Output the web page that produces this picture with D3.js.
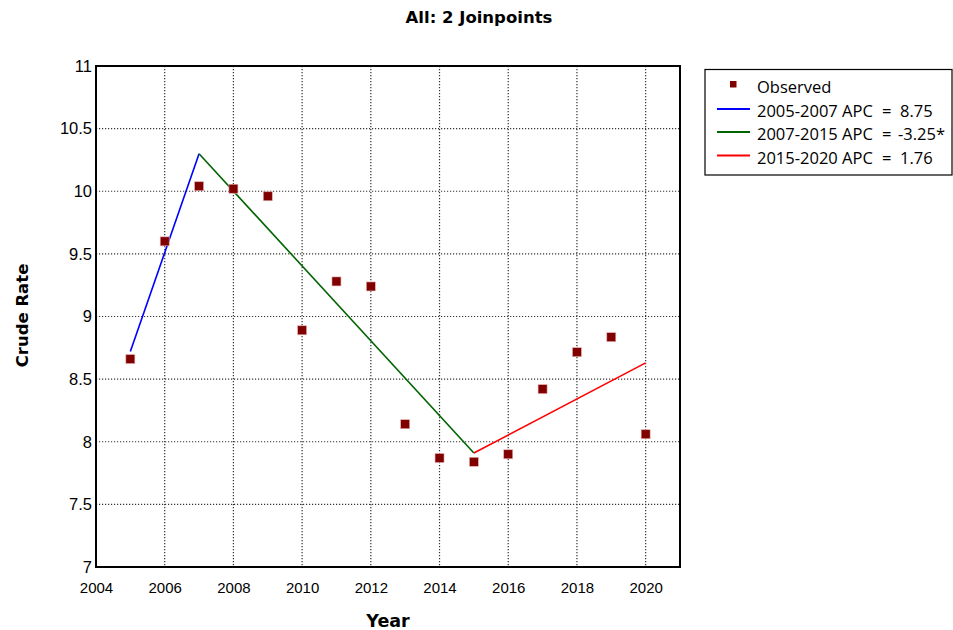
<!DOCTYPE html>
<html>
<head>
<meta charset="utf-8">
<script src="https://cdn.jsdelivr.net/npm/d3@7"></script>
<style>
  html, body { margin: 0; padding: 0; background: #fff; }
  svg { display: block; }
</style>
</head>
<body>
<svg id="chart" width="953" height="630"></svg>
<script>
// Observed crude rates by year
const years = [2005, 2006, 2007, 2008, 2009, 2010, 2011, 2012, 2013, 2014, 2015, 2016, 2017, 2018, 2019, 2020];
const observed = [8.66, 9.60, 10.04, 10.02, 9.96, 8.89, 9.28, 9.24, 8.14, 7.87, 7.84, 7.90, 8.42, 8.715, 8.835, 8.06];

// Joinpoint model segments (start/end year and fitted rate)
const segmentPeriods = ["2005-2007 APC", "2007-2015 APC", "2015-2020 APC"];
const segmentApc = ["8.75", "-3.25*", "1.76"];
const segmentYears = [[2005, 2007], [2007, 2015], [2015, 2020]];
const segmentFits = [[8.72, 10.30], [10.30, 7.91], [7.91, 8.63]];
const segmentColors = ["#0000ff", "#006400", "#ff0000"];

const xTicks = [2004, 2006, 2008, 2010, 2012, 2014, 2016, 2018, 2020];
const yTicks = [7, 7.5, 8, 8.5, 9, 9.5, 10, 10.5, 11];

const svg = d3.select("#chart");
const plot = { left: 96, top: 66, right: 680, bottom: 567 };

const x = d3.scaleLinear().domain([2004, 2021]).range([plot.left, plot.right]);
const y = d3.scaleLinear().domain([7, 11]).range([plot.bottom, plot.top]);

const tickFont = "'Liberation Sans', Arial, sans-serif";
const boldFont = "'DejaVu Sans', Verdana, sans-serif";
const legendFont = "'Open Sans', 'Noto Sans', sans-serif";

// Title
svg.append("text")
  .attr("x", 479).attr("y", 22.5)
  .attr("text-anchor", "middle")
  .style("font-family", boldFont).style("font-weight", "bold").style("font-size", "16.5px")
  .text("All: 2 Joinpoints");

// Dotted grid
const grid = svg.append("g").attr("stroke", "#333").attr("stroke-width", 1.2).attr("stroke-dasharray", "1.2,1.8");
grid.selectAll("line.v").data(xTicks.filter(d => d > 2004)).join("line")
  .attr("x1", d => x(d)).attr("x2", d => x(d))
  .attr("y1", plot.top).attr("y2", plot.bottom);
grid.selectAll("line.h").data(yTicks.filter(d => d > 7 && d < 11)).join("line")
  .attr("x1", plot.left).attr("x2", plot.right)
  .attr("y1", d => y(d)).attr("y2", d => y(d));

// Axes
const xAxis = d3.axisBottom(x).tickValues(xTicks).tickSize(0).tickPadding(15).tickFormat(d3.format("d"));
const yAxis = d3.axisLeft(y).tickValues(yTicks).tickSize(0).tickPadding(4).tickFormat(d => d3.format("")(d));

const gx = svg.append("g").attr("transform", `translate(0,${plot.bottom})`).call(xAxis);
gx.select(".domain").remove();
gx.selectAll("text").style("font-family", tickFont).style("font-size", "15px").attr("fill", "#000");

const gy = svg.append("g").attr("transform", `translate(${plot.left},0)`).call(yAxis);
gy.select(".domain").remove();
gy.selectAll("text").style("font-family", tickFont).style("font-size", "16.5px").attr("fill", "#000");

// Plot frame
svg.append("rect")
  .attr("x", plot.left).attr("y", plot.top)
  .attr("width", plot.right - plot.left).attr("height", plot.bottom - plot.top)
  .attr("fill", "none").attr("stroke", "#000").attr("stroke-width", 2);

// Axis titles
svg.append("text")
  .attr("x", 388).attr("y", 627)
  .attr("text-anchor", "middle")
  .style("font-family", boldFont).style("font-weight", "bold").style("font-size", "17.5px")
  .text("Year");
svg.append("text")
  .attr("transform", "translate(28,315.5) rotate(-90)")
  .attr("text-anchor", "middle")
  .style("font-family", boldFont).style("font-weight", "bold").style("font-size", "16.5px")
  .text("Crude Rate");

// Fitted segments
const line = d3.line().x(d => x(d[0])).y(d => y(d[1]));
segmentYears.forEach((yr, i) => {
  svg.append("path")
    .datum([[yr[0], segmentFits[i][0]], [yr[1], segmentFits[i][1]]])
    .attr("d", line)
    .attr("fill", "none")
    .attr("stroke", segmentColors[i])
    .attr("stroke-width", 1.6);
});

// Observed points
const sq = 9;
svg.append("g").selectAll("rect").data(years.map((d, i) => [d, observed[i]])).join("rect")
  .attr("x", d => x(d[0]) - sq / 2).attr("y", d => y(d[1]) - sq / 2)
  .attr("width", sq).attr("height", sq)
  .attr("fill", "#800000").attr("stroke", "#e8b0b0").attr("stroke-width", 0.6);

// Legend
const lg = svg.append("g");
lg.append("rect")
  .attr("x", 705).attr("y", 69.5).attr("width", 247).attr("height", 105.5)
  .attr("fill", "#fff").attr("stroke", "#000").attr("stroke-width", 1.2);
const baselines = [93, 117, 140, 163.5];
const legendText = (sel, xPos, yPos, str) => sel.append("text")
  .attr("x", xPos).attr("y", yPos)
  .style("font-family", legendFont).style("font-size", "16.5px").attr("fill", "#000")
  .text(str);
lg.append("rect")
  .attr("x", 730).attr("y", 81).attr("width", 6.5).attr("height", 6.5)
  .attr("fill", "#800000");
legendText(lg, 757, baselines[0], "Observed");
segmentPeriods.forEach((lab, i) => {
  const by = baselines[i + 1];
  lg.append("line")
    .attr("x1", 717).attr("x2", 750)
    .attr("y1", by - 8).attr("y2", by - 8)
    .attr("stroke", segmentColors[i]).attr("stroke-width", 2);
  legendText(lg, 757, by, lab);
  legendText(lg, 882, by, "=");
  legendText(lg, segmentApc[i].startsWith("-") ? 898 : 900, by, segmentApc[i]);
});
</script>
</body>
</html>
